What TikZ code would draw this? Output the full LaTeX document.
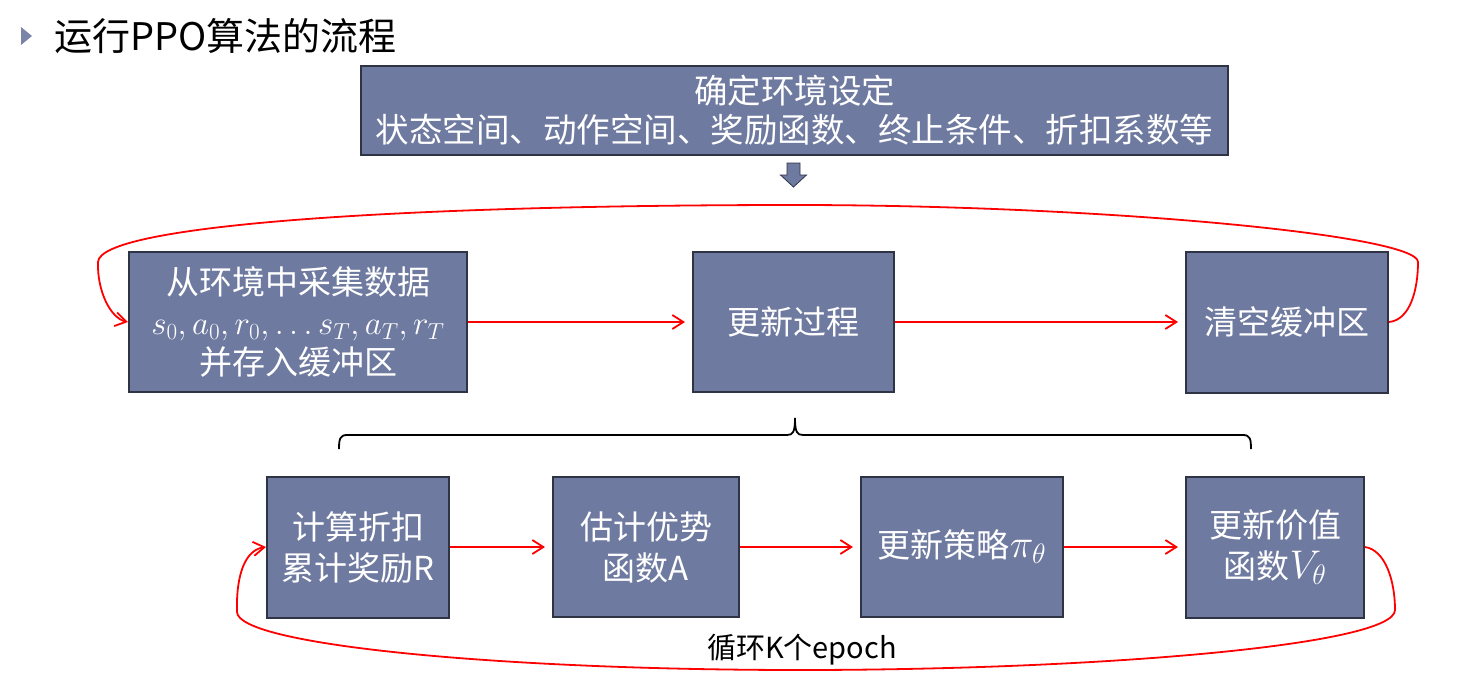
\RequirePackage{fix-cm}
\documentclass[tikz,border=0pt]{standalone}
\usepackage{fontspec}
\setmainfont{Noto Sans CJK SC}
\usetikzlibrary{arrows.meta}
\definecolor{boxfill}{HTML}{6F7AA0}
\definecolor{boxline}{HTML}{2F3445}
\definecolor{flowred}{HTML}{FF0000}
\definecolor{bullet}{HTML}{7A84A8}
\newcommand{\bigmath}[1]{{\fontsize{40}{40}\selectfont$#1$}}
\begin{document}
\begin{tikzpicture}[x=1pt,y=-1pt,
  box/.style={draw=boxline, line width=2pt, fill=boxfill, text=white, inner sep=0pt,
    align=center, font=\fontsize{33}{40}\selectfont},
  flow/.style={draw=flowred, line width=1.8pt,
    -{Straight Barb[length=11pt,width=14pt,line width=1.8pt]}},
  bracestyle/.style={draw=black, line width=1.8pt},
  blockarrow/.style={fill=boxfill, draw=boxline, line width=0.8pt}]
\useasboundingbox (0,0) rectangle (1476,681);
\fill[white] (0,0) rectangle (1476,681);

% title
\fill[bullet] (21,27) -- (32,36) -- (21,45) -- cycle;
\node[anchor=west, inner sep=0pt, font=\fontsize{38}{42}\selectfont] (title) at (54,36) {运行PPO算法的流程};

% top box
\node[box, minimum width=867pt, minimum height=89pt, font=\fontsize{33.5}{39}\selectfont] (top) at (794.5,110.5)
  {确定环境设定\\状态空间、动作空间、奖励函数、终止条件、折扣系数等};

% block arrow
\fill[blockarrow] (787,163) -- (800,163) -- (800,175) -- (806.5,175) -- (793.5,187) -- (780.5,175) -- (787,175) -- cycle;

% row 2
\node[box, minimum width=338pt, minimum height=140pt] (A) at (298,322)
  {从环境中采集数据\\$s_0,a_0,r_0,\ldots s_T,a_T,r_T$\\并存入缓冲区};
\node[box, minimum width=201pt, minimum height=140pt] (B) at (793.5,322) {更新过程};
\node[box, minimum width=202pt, minimum height=141pt] (C) at (1287,322) {清空缓冲区};

\draw[flow, shorten >=7pt] (A.east) -- (B.west);
\draw[flow, shorten >=7pt] (B.east) -- (C.west);

\draw[flow] (C.east) .. controls (1410,320) and (1418,290) .. (1418,262)
  .. controls (1418,235) and (1100,205) .. (795,205)
  .. controls (400,205) and (100,225) .. (98,262)
  .. controls (97,290) and (110,318) .. (A.west);

% brace
\coordinate (braceL) at (339,449);
\coordinate (braceR) at (1251,449);
\coordinate (braceTip) at (795,418);
\draw[bracestyle] (braceL) .. controls (339,439) and (340,435) .. (347,435) -- (787,435)
  .. controls (793,435) and (795,432) .. (braceTip)
  .. controls (795,432) and (797,435) .. (803,435) -- (1243,435)
  .. controls (1250,435) and (1251,439) .. (braceR);

% row 3
\node[box, minimum width=182pt, minimum height=141pt, font=\fontsize{33}{41}\selectfont] (D) at (358,547)
  {计算折扣\\累计奖励R};
\node[box, minimum width=186pt, minimum height=140pt, font=\fontsize{33}{41}\selectfont] (E) at (646,547)
  {估计优势\\函数A};
\node[box, minimum width=202pt, minimum height=140pt] (F) at (962,547) {更新策略\bigmath{\pi_\theta}};
\node[box, minimum width=178pt, minimum height=141pt, font=\fontsize{33}{41}\selectfont] (G) at (1275,547)
  {更新价值\\函数\bigmath{V_\theta}};

\draw[flow, shorten >=7pt] (D.east) -- (E.west);
\draw[flow, shorten >=7pt] (E.east) -- (F.west);
\draw[flow, shorten >=7pt] (F.east) -- (G.west);

\draw[flow] (G.east) .. controls (1385,550) and (1395,580) .. (1395,610)
  .. controls (1395,645) and (1100,670) .. (800,670)
  .. controls (500,670) and (238,645) .. (237,612)
  .. controls (236,575) and (245,550) .. (D.west);

\node[inner sep=0pt, font=\fontsize{29}{32}\selectfont] (loop) at (802,650) {循环K个epoch};
\end{tikzpicture}
\end{document}
